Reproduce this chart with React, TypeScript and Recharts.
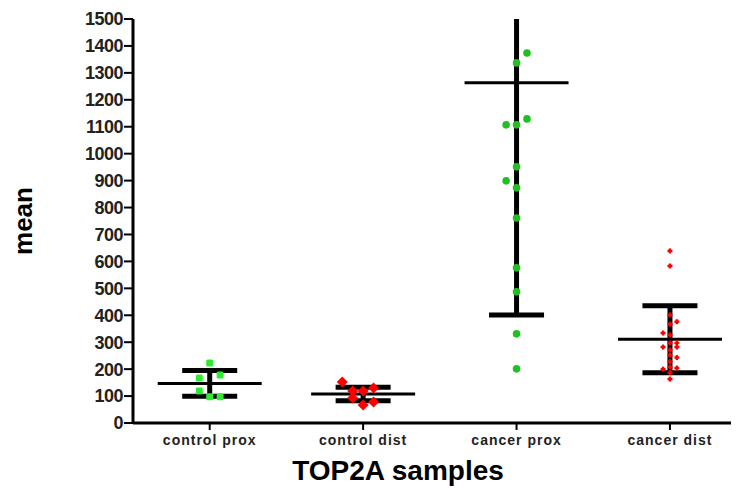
import React from 'react'
import { ScatterChart, Scatter, XAxis, YAxis, ErrorBar, Label } from 'recharts'

// groups along the x axis
const categories = ['control prox', 'control dist', 'cancer prox', 'cancer dist']

// group mean and spread (drawn as mean line + SD whiskers)
const groupMeans = [147, 108, 1263, 311]
const groupSDs = [48, 25, 862, 124]

// individual sample values per group, with their jitter column
const controlProx = [223, 178, 167, 119, 97, 97]
const controlProxCols = [0, 1, -1, -1, 0, 1]

const controlDist = [152, 130, 119, 119, 93, 78, 67]
const controlDistCols = [-2, 1, -1, 0, -1, 1, 0]

const cancerProx = [1374, 1337, 1129, 1107, 1107, 951, 899, 873, 761, 576, 487, 331, 201]
const cancerProxCols = [1, 0, 1, -1, 0, 0, -1, 0, 0, 0, 0, 0, 0]

const cancerDist = [639, 583, 401, 376, 367, 334, 327, 297, 282, 297, 282, 271, 252, 243, 228, 200, 204, 208, 187, 163]
const cancerDistCols = [0, 0, 0, 1, 0, -1, 0, 0, -1, 1, 1, 0, 0, 1, 0, -1, 1, 0, 0, 0]

const yTicks = [0, 100, 200, 300, 400, 500, 600, 700, 800, 900, 1000, 1100, 1200, 1300, 1400, 1500]

// horizontal jitter step per group, in x-axis units
const jitterStep = [0.068, 0.068, 0.068, 0.045]

const FONT = '"Liberation Sans", Arial, sans-serif'

// chart box; the plot area is what's left after margins and axes
const W = 731
const H = 483
const M = { top: 11, right: 0, bottom: 0, left: 0 }
const Y_AXIS_W = 125
const X_AXIS_H = 68

const toPoints = (vals: number[], cols: number[], group: number) =>
  vals.map((v, i) => ({ x: group + 1 + cols[i] * jitterStep[group], y: v }))

const meanData = groupMeans.map((m, i) => ({ x: i + 1, y: m, err: groupSDs[i] }))

const MeanLine = (props: any) => {
  const { cx, cy } = props
  return <line x1={cx - 52} x2={cx + 52} y1={cy} y2={cy} stroke="#000" strokeWidth={3} />
}

const Square = (color: string) => (props: any) => (
  <rect x={props.cx - 3.5} y={props.cy - 3.5} width={7} height={7} rx={1.5} fill={color} />
)

const Diamond = (color: string) => (props: any) => {
  const { cx, cy } = props
  return <polygon points={`${cx},${cy - 5.5} ${cx + 5.5},${cy} ${cx},${cy + 5.5} ${cx - 5.5},${cy}`} fill={color} />
}

const Dot = (color: string) => (props: any) => (
  <circle cx={props.cx} cy={props.cy} r={3.8} fill={color} />
)

const Plus = (color: string) => (props: any) => {
  const { cx, cy } = props
  return (
    <g fill={color}>
      <rect x={cx - 2.5} y={cy - 1.2} width={5} height={2.4} />
      <rect x={cx - 1.2} y={cy - 2.5} width={2.4} height={5} />
    </g>
  )
}

export default function App() {
  return (
    <ScatterChart width={W} height={H} margin={M}>
      <defs>
        <clipPath id="plot-clip">
          <rect
            x={M.left + Y_AXIS_W}
            y={M.top}
            width={W - M.left - M.right - Y_AXIS_W}
            height={H - M.top - M.bottom - X_AXIS_H}
          />
        </clipPath>
      </defs>
      <XAxis
        type="number"
        dataKey="x"
        domain={[0.5, 4.45]}
        ticks={[1, 2, 3, 4]}
        tickFormatter={(v: number) => categories[v - 1]}
        interval={0}
        height={X_AXIS_H}
        tickSize={7}
        tickMargin={5}
        axisLine={{ stroke: '#000', strokeWidth: 3 }}
        tickLine={{ stroke: '#000', strokeWidth: 2 }}
        tick={{ fill: '#222', fontSize: 14, fontWeight: 'bold', fontFamily: FONT, letterSpacing: 1 }}
      >
        <Label
          value="TOP2A samples"
          position="insideBottom"
          offset={11}
          dx={-38}
          style={{ fontSize: 28, fontWeight: 'bold', fontFamily: FONT, fill: '#000' }}
        />
      </XAxis>
      <YAxis
        type="number"
        dataKey="y"
        domain={[0, 1500]}
        allowDataOverflow
        ticks={yTicks}
        interval={0}
        width={Y_AXIS_W}
        tickSize={9}
        tickMargin={1}
        axisLine={{ stroke: '#000', strokeWidth: 3 }}
        tickLine={{ stroke: '#000', strokeWidth: 2 }}
        tick={{ fill: '#222', fontSize: 18, fontWeight: 'bold', fontFamily: FONT, letterSpacing: -0.5 }}
      >
        <Label
          value="mean"
          angle={-90}
          position="insideLeft"
          offset={15}
          style={{ fontSize: 26, fontWeight: 'bold', fontFamily: FONT, fill: '#000', textAnchor: 'middle' }}
        />
      </YAxis>
      <Scatter data={meanData} shape={MeanLine} isAnimationActive={false}>
        <ErrorBar
          dataKey="err"
          direction="y"
          width={27.5}
          strokeWidth={5}
          stroke="#000"
          clipPath="url(#plot-clip)"
        />
      </Scatter>
      <Scatter data={toPoints(controlProx, controlProxCols, 0)} shape={Square('#2EEA2E')} isAnimationActive={false} />
      <Scatter data={toPoints(controlDist, controlDistCols, 1)} shape={Diamond('#FF0000')} isAnimationActive={false} />
      <Scatter data={toPoints(cancerProx, cancerProxCols, 2)} shape={Dot('#1FC01F')} isAnimationActive={false} />
      <Scatter data={toPoints(cancerDist, cancerDistCols, 3)} shape={Plus('#FF0000')} isAnimationActive={false} />
    </ScatterChart>
  )
}
